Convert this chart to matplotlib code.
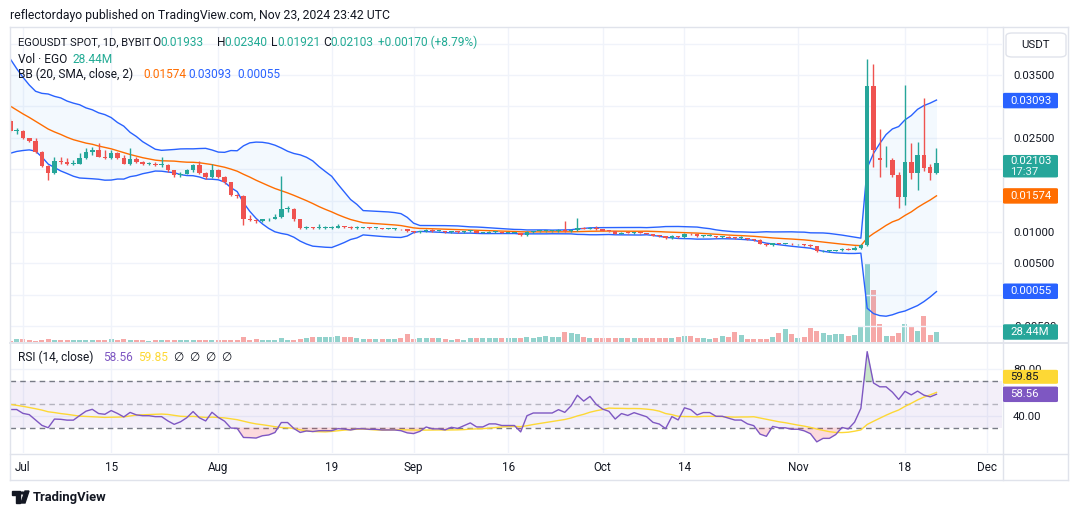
import matplotlib
matplotlib.use('Agg')
import matplotlib.pyplot as plt
import numpy as np
import pandas as pd
from matplotlib.patches import FancyBboxPatch, Polygon, Circle

plt.rcParams['font.family'] = ['Roboto', 'DejaVu Sans']

# ---------------- data ----------------
dates = pd.date_range('2024-06-29', '2024-11-23', freq='D')

# June closes before the first visible candle, only used to warm up BB / RSI
pre_closes = [0.0330, 0.0345, 0.0338, 0.0352, 0.0365, 0.0350, 0.0362, 0.0375, 0.0360,
              0.0385, 0.0372, 0.0358, 0.0348, 0.0330, 0.0318, 0.0305, 0.0292, 0.0300,
              0.0285, 0.0272, 0.0282, 0.0268, 0.0276, 0.0262, 0.0270, 0.0280, 0.0268, 0.0277]

closes = [0.0261, 0.0261,
          # Jul
          0.0249, 0.0245, 0.0227, 0.0205, 0.0194, 0.0213, 0.0212, 0.0209, 0.0209, 0.0218,
          0.0227, 0.0231, 0.0220, 0.0218, 0.0225, 0.0218, 0.0209, 0.0217, 0.0211, 0.0209,
          0.0209, 0.0207, 0.0207, 0.0198, 0.0190, 0.0193, 0.0198, 0.0206, 0.0194, 0.0187, 0.0199,
          # Aug
          0.0188, 0.0179, 0.0159, 0.0158, 0.0120, 0.0119, 0.0117, 0.0120, 0.0121, 0.0124,
          0.0137, 0.0137, 0.0120, 0.0106, 0.0108, 0.0106, 0.0107, 0.0107, 0.0107, 0.0109,
          0.0108, 0.0106, 0.0107, 0.0107, 0.0106, 0.0106, 0.0105, 0.0105, 0.0105, 0.0104, 0.0101,
          # Sep
          0.0100, 0.0101, 0.0103, 0.0101, 0.0101, 0.0100, 0.0101, 0.0100, 0.0101, 0.0102,
          0.0099, 0.0099, 0.0100, 0.0100, 0.0099, 0.0099, 0.0099, 0.0095, 0.0100, 0.0101,
          0.0101, 0.0101, 0.0101, 0.0102, 0.0101, 0.0103, 0.0107, 0.0105, 0.0107, 0.0104,
          # Oct
          0.0102, 0.0101, 0.0097, 0.0099, 0.0098, 0.0099, 0.0098, 0.0097, 0.0094, 0.0093,
          0.0090, 0.0094, 0.0092, 0.0097, 0.0096, 0.0093, 0.0094, 0.0094, 0.0092, 0.0092,
          0.0091, 0.0090, 0.0090, 0.0088, 0.0087, 0.0081, 0.0079, 0.0082, 0.0081, 0.0081, 0.0080,
          # Nov
          0.0080, 0.0079, 0.0077, 0.0069, 0.0070, 0.0070, 0.0071, 0.0073, 0.0072, 0.0074,
          0.0079, 0.0333, 0.0231, 0.0214, 0.0214, 0.0191, 0.0156, 0.0212, 0.0194, 0.0222,
          0.0202, 0.01933, 0.02103]

opens = [0.0277, 0.0261,
         0.0261, 0.0249, 0.0245, 0.0227, 0.0205, 0.0194, 0.0213, 0.0212, 0.0209, 0.0209,
         0.0218, 0.0227, 0.0231, 0.0220, 0.0218, 0.0225, 0.0218, 0.0209, 0.0217, 0.0211,
         0.0209, 0.0209, 0.0207, 0.0207, 0.0198, 0.0190, 0.0193, 0.0198, 0.0206, 0.0194, 0.0187,
         0.0199, 0.0188, 0.0179, 0.0159, 0.0158, 0.0120, 0.0119, 0.0117, 0.0120, 0.0121,
         0.0124, 0.0137, 0.0137, 0.0120, 0.0106, 0.0108, 0.0106, 0.0107, 0.0107, 0.0107,
         0.0109, 0.0108, 0.0106, 0.0107, 0.0107, 0.0106, 0.0106, 0.0105, 0.0105, 0.0105, 0.0104,
         0.0101, 0.0100, 0.0101, 0.0103, 0.0101, 0.0101, 0.0100, 0.0101, 0.0100, 0.0101,
         0.0102, 0.0099, 0.0099, 0.0100, 0.0100, 0.0099, 0.0099, 0.0099, 0.0095, 0.0100,
         0.0101, 0.0101, 0.0101, 0.0101, 0.0102, 0.0101, 0.0103, 0.0107, 0.0105, 0.0107,
         0.0104, 0.0102, 0.0101, 0.0097, 0.0099, 0.0098, 0.0099, 0.0098, 0.0097, 0.0094,
         0.0093, 0.0090, 0.0094, 0.0092, 0.0097, 0.0096, 0.0093, 0.0094, 0.0094, 0.0092,
         0.0092, 0.0091, 0.0090, 0.0090, 0.0088, 0.0087, 0.0081, 0.0079, 0.0082, 0.0081, 0.0081,
         0.0080, 0.0080, 0.0079, 0.0077, 0.0069, 0.0070, 0.0070, 0.0071, 0.0073, 0.0072,
         0.0074, 0.0079, 0.0333, 0.0218, 0.0214, 0.0214, 0.0191, 0.0156, 0.0212, 0.0194,
         0.0222, 0.0204, 0.01933]

highs = [0.0280, 0.0265,
         0.0262, 0.0250, 0.0250, 0.0229, 0.0206, 0.0220, 0.0219, 0.0218, 0.0214, 0.0226,
         0.0234, 0.0236, 0.0242, 0.0231, 0.0231, 0.0228, 0.0222, 0.0233, 0.0219, 0.0213,
         0.0212, 0.0211, 0.0219, 0.0208, 0.0199, 0.0195, 0.0200, 0.0209, 0.0213, 0.0195, 0.0209,
         0.0200, 0.0189, 0.0180, 0.0160, 0.0159, 0.0127, 0.0120, 0.0121, 0.0122, 0.0128,
         0.0189, 0.0142, 0.0138, 0.0120, 0.0109, 0.0108, 0.0112, 0.0109, 0.0109, 0.0113,
         0.0110, 0.0109, 0.0109, 0.0108, 0.0108, 0.0107, 0.0107, 0.0106, 0.0107, 0.0105, 0.0105,
         0.0102, 0.0102, 0.0104, 0.0104, 0.0102, 0.0102, 0.0102, 0.0101, 0.0102, 0.0103,
         0.0102, 0.0100, 0.0101, 0.0101, 0.0100, 0.0100, 0.0100, 0.0099, 0.0101, 0.0102,
         0.0102, 0.0102, 0.0102, 0.0105, 0.0117, 0.0104, 0.0123, 0.0108, 0.0108, 0.0109,
         0.0105, 0.0102, 0.0101, 0.0100, 0.0099, 0.0100, 0.0099, 0.0099, 0.0097, 0.0095,
         0.0094, 0.0095, 0.0094, 0.0099, 0.0098, 0.0097, 0.0095, 0.0096, 0.0094, 0.0094,
         0.0093, 0.0092, 0.0093, 0.0091, 0.0089, 0.0088, 0.0082, 0.0083, 0.0083, 0.0082, 0.0082,
         0.0081, 0.0081, 0.0080, 0.0078, 0.0071, 0.0071, 0.0072, 0.0075, 0.0074, 0.0077,
         0.0080, 0.0375, 0.0367, 0.0264, 0.0237, 0.0218, 0.0196, 0.0334, 0.0242, 0.0244,
         0.0313, 0.0208, 0.0234]

lows = [0.0259, 0.0256,
        0.0248, 0.0243, 0.0226, 0.0203, 0.0182, 0.0192, 0.0208, 0.0207, 0.0206, 0.0208,
        0.0216, 0.0222, 0.0219, 0.0217, 0.0216, 0.0216, 0.0208, 0.0206, 0.0210, 0.0206,
        0.0206, 0.0205, 0.0204, 0.0196, 0.0188, 0.0187, 0.0192, 0.0196, 0.0193, 0.0185, 0.0186,
        0.0186, 0.0176, 0.0157, 0.0154, 0.0111, 0.0117, 0.0115, 0.0116, 0.0118, 0.0120,
        0.0122, 0.0132, 0.0118, 0.0105, 0.0105, 0.0105, 0.0105, 0.0105, 0.0105, 0.0106,
        0.0106, 0.0105, 0.0105, 0.0106, 0.0105, 0.0105, 0.0104, 0.0104, 0.0103, 0.0103, 0.0100,
        0.0099, 0.0099, 0.0100, 0.0100, 0.0100, 0.0099, 0.0099, 0.0099, 0.0099, 0.0100,
        0.0098, 0.0098, 0.0098, 0.0099, 0.0098, 0.0098, 0.0098, 0.0094, 0.0094, 0.0099,
        0.0100, 0.0100, 0.0100, 0.0100, 0.0100, 0.0100, 0.0102, 0.0104, 0.0104, 0.0103,
        0.0101, 0.0100, 0.0096, 0.0096, 0.0097, 0.0097, 0.0097, 0.0096, 0.0093, 0.0092,
        0.0089, 0.0089, 0.0091, 0.0091, 0.0095, 0.0092, 0.0092, 0.0093, 0.0091, 0.0091,
        0.0090, 0.0089, 0.0089, 0.0087, 0.0086, 0.0080, 0.0078, 0.0078, 0.0080, 0.0080, 0.0079,
        0.0079, 0.0078, 0.0076, 0.0068, 0.0068, 0.0068, 0.0069, 0.0070, 0.0071, 0.0071,
        0.0073, 0.0077, 0.0203, 0.0188, 0.0203, 0.0187, 0.0138, 0.0143, 0.0184, 0.0167,
        0.0197, 0.0182, 0.01921]

# volume in millions of EGO
volumes = [3, 8,
           8, 5.5, 4, 6.4, 9, 6.4, 6.4, 6.4, 6.4, 6.4, 6.4, 6.4, 6.4, 6.4, 9, 6.4, 9, 6.4,
           6.4, 6.4, 4, 6.4, 6.4, 6.4, 6.4, 6.4, 6.4, 6.4, 6.4, 6.4, 6.4,
           6.4, 6.4, 6.4, 6.4, 14.7, 6.4, 9, 6.4, 6.4, 6.4, 12, 6.4, 6.4, 9, 12, 14.7,
           14.7, 14.7, 14.7, 17.4, 14.7, 14.7, 10, 9, 9, 9, 9, 9, 9, 12, 24,
           9, 12, 12, 12, 12, 9, 5.5, 9, 5.5, 12, 12, 12, 12, 12, 12, 12, 12, 12, 14, 12,
           15, 17, 15, 15, 28, 25, 23, 15, 12, 12,
           12, 10, 12, 12, 12, 10, 10, 12, 10, 12, 10, 10, 14, 16, 18, 12, 12, 9, 12, 17,
           14, 28, 20, 9, 9, 9, 9, 14, 25, 37, 23,
           12, 14, 39, 32, 26, 21, 23, 23, 17, 20, 43, 224, 148, 51, 17, 17, 25, 51, 43, 31,
           74, 20, 28.44]

# last values as printed in the legends
bb_readout = [0.01574, 0.03093, 0.00055]   # basis, upper, lower
rsi_readout = [58.56, 59.85]               # RSI, RSI-based MA

date_ticks = ['2024-07-01', '2024-07-15', '2024-08-01', '2024-08-19', '2024-09-01', '2024-09-16',
              '2024-10-01', '2024-10-14', '2024-11-01', '2024-11-18', '2024-12-01']
date_labels = ['Jul', '15', 'Aug', '19', 'Sep', '16', 'Oct', '14', 'Nov', '18', 'Dec']
price_grid = [-0.005, 0.0, 0.005, 0.010, 0.015, 0.020, 0.025, 0.030, 0.035, 0.040]
price_shown = [-0.005, 0.005, 0.010, 0.025, 0.035]

# ---------------- styling ----------------
W, H = 1080, 515
GREEN = '#26a69a'
RED = '#ef5350'
TXT = '#131722'
GRID = '#f0f3fa'
LINE = '#e0e3eb'
BLUE = '#2962ff'
ORANGE = '#ff6d00'
PURPLE = '#7e57c2'
YELLOW = '#fdd835'
LG = '#22ab94'

t0 = pd.Timestamp('2024-07-01')
xs = np.array((dates - t0).days, dtype=float)
tick_x = [(pd.Timestamp(d) - t0).days for d in date_ticks]

o = np.array(opens); h = np.array(highs); l = np.array(lows); c = np.array(closes)
vol = np.array(volumes)

# indicators
allc = pd.Series(pre_closes + closes)
n0 = len(pre_closes)
basis = allc.rolling(20).mean()
dev = allc.rolling(20).std(ddof=0)
upper = (basis + 2 * dev).values[n0:]
lower = (basis - 2 * dev).values[n0:]
basis = basis.values[n0:]

delta = allc.diff()
gain = delta.clip(lower=0).ewm(alpha=1 / 14, adjust=False).mean()
loss = (-delta.clip(upper=0)).ewm(alpha=1 / 14, adjust=False).mean()
rsi_all = 100 - 100 / (1 + gain / loss)
rsi_ma = rsi_all.rolling(14).mean().values[n0:]
rsi = rsi_all.values[n0:]


def rect(x0, y0, x1, y1):
    return [x0 / W, 1 - y1 / H, (x1 - x0) / W, (y1 - y0) / H]


def px(x, y):
    return x / W, 1 - y / H


fig = plt.figure(figsize=(W / 100, H / 100), dpi=100)
fig.patch.set_facecolor('white')

XL = (-2.06, 155.4)
main_r = rect(10, 27, 1002, 342)

# volume lives on its own axes under the price axes
axv = fig.add_axes(main_r)
axv.set_xlim(*XL)
axv.set_ylim(0, 315 * 2.844)
vcol = [GREEN + '80' if cc >= oo else RED + '80' for oo, cc in zip(o, c)]
axv.bar(xs, vol, width=0.8, color=vcol, linewidth=0)
axv.axis('off')

ax = fig.add_axes(main_r)
ax.patch.set_alpha(0)
ax.set_xlim(*XL)
ax.set_ylim(-0.007537, 0.042655)
for s in ax.spines.values():
    s.set_visible(False)
ax.set_yticks(price_grid)
ax.set_yticklabels(['%.5f' % v if v in price_shown else '' for v in price_grid])
ax.yaxis.tick_right()
ax.tick_params(axis='y', length=0, pad=8, labelsize=8.2, colors=TXT)
ax.set_xticks(tick_x)
ax.set_xticklabels([])
ax.tick_params(axis='x', length=0)
ax.grid(color=GRID, linewidth=1, zorder=0)
ax.set_axisbelow(True)

# bollinger bands
ax.fill_between(xs, lower, upper, color='#2196f3', alpha=0.05, linewidth=0, zorder=1)
ax.plot(xs, upper, color=BLUE, lw=1, zorder=2)
ax.plot(xs, lower, color=BLUE, lw=1, zorder=2)
ax.plot(xs, basis, color=ORANGE, lw=1, zorder=2)

# candles
ccol = np.where(c >= o, GREEN, RED)
ax.vlines(xs, l, h, colors=ccol, lw=1, zorder=3)
ax.bar(xs, np.maximum(np.abs(c - o), 0.00014), bottom=np.minimum(o, c), width=0.72,
       color=ccol, linewidth=0, zorder=4)

# RSI pane
axr = fig.add_axes(rect(10, 343, 1002, 453))
axr.set_xlim(*XL)
axr.set_ylim(8.3, 102.5)
for s in axr.spines.values():
    s.set_visible(False)
axr.set_yticks([40, 80])
axr.set_yticklabels(['40.00', '80.00'])
axr.yaxis.tick_right()
axr.tick_params(axis='y', length=0, pad=8, labelsize=8.2, colors=TXT)
axr.set_xticks(tick_x)
axr.set_xticklabels(date_labels)
axr.tick_params(axis='x', length=0, pad=6, labelsize=8.4, colors=TXT)
axr.grid(color=GRID, linewidth=1, zorder=0)
axr.set_axisbelow(True)
axr.axhspan(30, 70, color=PURPLE, alpha=0.09, linewidth=0, zorder=1)
for lev, a in [(70, 1), (50, 0.5), (30, 1)]:
    axr.axhline(lev, color='#787b86', lw=1, dashes=(4, 3), alpha=a, zorder=2)
axr.fill_between(xs, rsi, 70, where=rsi > 70, interpolate=True, color='#4caf50', alpha=0.3,
                 linewidth=0, zorder=2)
axr.fill_between(xs, rsi, 30, where=rsi < 30, interpolate=True, color='#f23645', alpha=0.18,
                 linewidth=0, zorder=2)
axr.plot(xs, rsi_ma, color=YELLOW, lw=1, zorder=3)
axr.plot(xs, rsi, color=PURPLE, lw=1, zorder=4)


# frame and separators
def hline(y, x0, x1, color=LINE, lw=1):
    fig.add_artist(plt.Line2D([x0 / W, x1 / W], [1 - y / H, 1 - y / H], color=color, lw=lw))


def vline(x, y0, y1, color=LINE, lw=1):
    fig.add_artist(plt.Line2D([x / W, x / W], [1 - y0 / H, 1 - y1 / H], color=color, lw=lw))


hline(26.5, 9.5, 1068)
hline(480, 9.5, 1068)
vline(9.5, 26.5, 480)
vline(1068, 26.5, 480)
vline(1002.5, 26.5, 480)
hline(342.5, 9.5, 1068, lw=1.3)
hline(453.5, 9.5, 1068)


def tag(yc, text, bg, fg='white', hgt=15.5, two=None):
    x0, x1 = 1003, 1058
    y0 = yc - hgt / 2
    fig.add_artist(FancyBboxPatch(px(x0, y0 + hgt), (x1 - x0) / W, hgt / H,
                                  boxstyle='round,pad=0,rounding_size=0.002',
                                  transform=fig.transFigure, facecolor=bg, edgecolor='none',
                                  zorder=5))
    if two is None:
        fig.text(*px(1010, yc), text, color=fg, fontsize=8.2, va='center', ha='left', zorder=6)
    else:
        fig.text(*px(1010, y0 + 6.5), text, color=fg, fontsize=8.2, va='center', ha='left', zorder=6)
        fig.text(*px(1010, y0 + 17), two, color=fg, fontsize=8.2, va='center', ha='left',
                 zorder=6, alpha=0.9)


def ypix(axis, v):
    return H - axis.transData.transform((0, v))[1]


bb_mid, bb_up, bb_lo = bb_readout
tag(ypix(ax, bb_up), '%.5f' % bb_up, BLUE)
tag(ypix(ax, c[-1]) + 3.5, '%.5f' % c[-1], GREEN, hgt=22.5, two='17:37')
tag(ypix(ax, bb_mid), '%.5f' % bb_mid, ORANGE)
tag(ypix(ax, bb_lo), '%.5f' % bb_lo, BLUE)
tag(332, '%.2fM' % vol[-1], GREEN)
tag(ypix(axr, rsi_readout[0]), '%.2f' % rsi_readout[0], PURPLE)
tag(ypix(axr, rsi_readout[0]) - 17.5, '%.2f' % rsi_readout[1], YELLOW, fg=TXT, hgt=14)

# USDT button
fig.add_artist(FancyBboxPatch(px(1006, 57), 60 / W, 24 / H,
                              boxstyle='round,pad=0,rounding_size=0.006',
                              transform=fig.transFigure, facecolor='white', edgecolor=LINE,
                              lw=1, zorder=5))
fig.text(*px(1036, 45), 'USDT', fontsize=8.2, color=TXT, ha='center', va='center', zorder=6)

# header and legends
fig.text(*px(10, 15), 'reflectordayo published on TradingView.com, Nov 23, 2024 23:42 UTC',
         fontsize=8.8, color=TXT, va='center')

FS = 8.6
chg = c[-1] - c[-2]
legend1 = [(17.5, 'EGOUSDT SPOT, 1D, BYBIT', TXT, 8.0),
           (152.5, 'O', TXT, FS), (160, '%.5f' % o[-1], LG, FS),
           (216.5, 'H', TXT, FS), (224, '%.5f' % h[-1], LG, FS),
           (271.5, 'L', TXT, FS), (277, '%.5f' % l[-1], LG, FS),
           (323.5, 'C', TXT, FS), (330, '%.5f' % c[-1], LG, FS),
           (378, '+%.5f (+%.2f%%)' % (chg, chg / c[-2] * 100), LG, FS)]
for x, s, col, fs in legend1:
    fig.text(*px(x, 42.7), s, fontsize=fs, color=col, va='center')
fig.text(*px(17.5, 59.3), 'Vol \u00b7 EGO', fontsize=FS, color=TXT, va='center')
fig.text(*px(72.5, 59.3), '%.2fM' % vol[-1], fontsize=FS, color=LG, va='center')
for x, s, col in [(17.5, 'BB (20, SMA, close, 2)', TXT), (143, '%.5f' % bb_mid, ORANGE),
                  (188, '%.5f' % bb_up, BLUE), (237, '%.5f' % bb_lo, BLUE)]:
    fig.text(*px(x, 74), s, fontsize=FS, color=col, va='center')
for x, s, col in [(18, 'RSI (14, close)', TXT), (103, '%.2f' % rsi_readout[0], PURPLE),
                  (138, '%.2f' % rsi_readout[1], YELLOW), (173, '\u2205', TXT),
                  (189, '\u2205', TXT), (205, '\u2205', TXT), (221, '\u2205', TXT)]:
    fig.text(*px(x, 357.3), s, fontsize=FS, color=col, va='center')

# TradingView logo
fig.add_artist(Polygon([px(12, 491), px(20, 491), px(20, 503), px(16, 503), px(16, 495), px(12, 495)],
                       closed=True, transform=fig.transFigure, color=TXT))
fig.add_artist(Circle(px(22.5, 493), 1.9 / W, transform=fig.transFigure, color=TXT))
fig.add_artist(Polygon([px(21, 503), px(25, 491), px(29, 491), px(25, 503)], closed=True,
                       transform=fig.transFigure, color=TXT))
fig.text(*px(33, 497), 'TradingView', fontsize=9.4, fontweight='bold', color=TXT, va='center')

fig.savefig('out.png', dpi=100, facecolor='white')
